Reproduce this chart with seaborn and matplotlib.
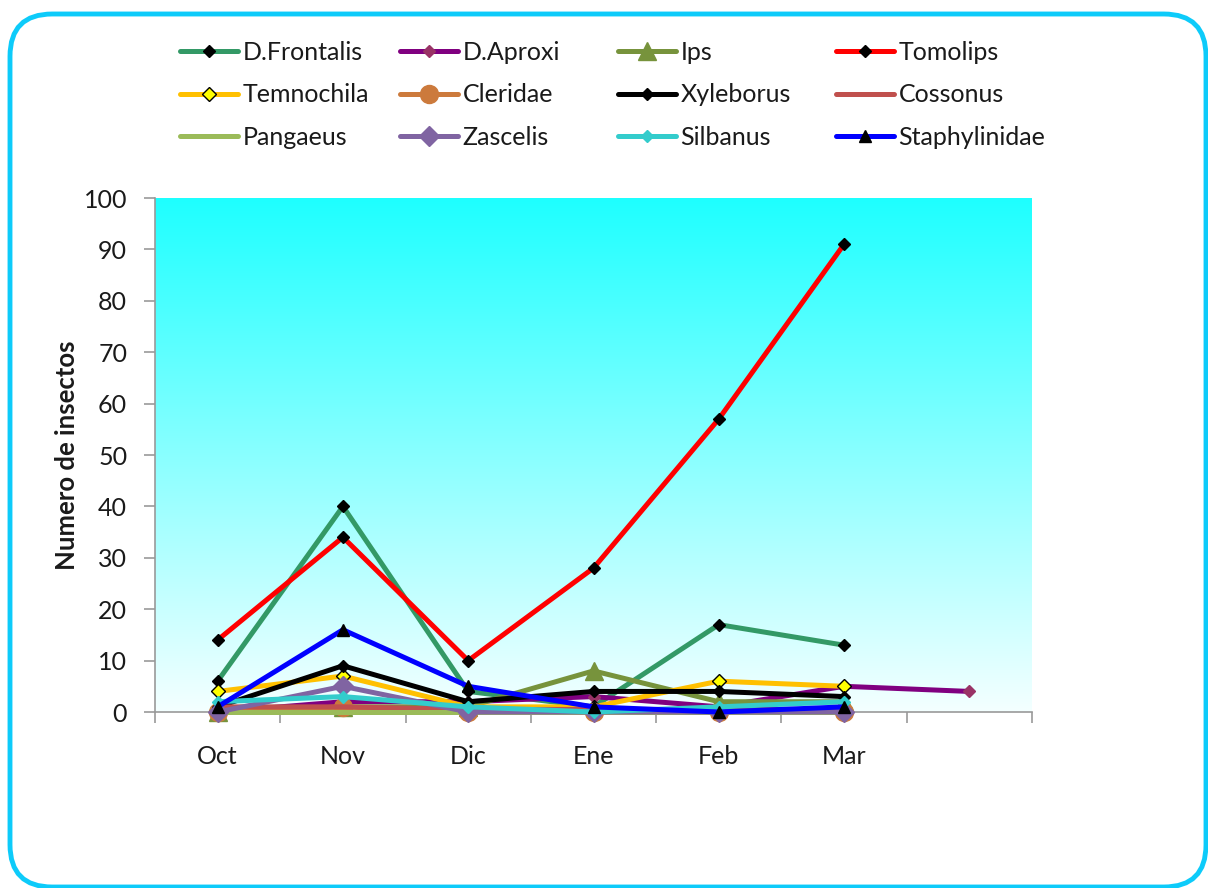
import numpy as np
import pandas as pd
import matplotlib
matplotlib.use("Agg")
import matplotlib.pyplot as plt
from matplotlib.patches import FancyBboxPatch
from matplotlib.colors import LinearSegmentedColormap
import seaborn as sns

months = ["Oct", "Nov", "Dic", "Ene", "Feb", "Mar", ""]

d_frontalis   = [6, 40, 4, 1, 17, 13]
d_aproxi      = [0, 2, 2, 3, 1, 5, 4]
ips           = [0, 1, 1, 8, 2, 2]
tomolips      = [14, 34, 10, 28, 57, 91]
temnochila    = [4, 7, 1, 1, 6, 5]
cleridae      = [0, 1, 0, 0, 0, 0]
xyleborus     = [1, 9, 2, 4, 4, 3]
cossonus      = [1, 1, 0.5, 0.5, 0.5, 0.5]
pangaeus      = [0, 0, 0, 0, 0, 0]
zascelis      = [0, 5, 0, 0, 0, 0]
silbanus      = [2, 3, 1, 0, 1, 2]
staphylinidae = [1, 16, 5, 1, 0, 1]

series = [
    ("D.Frontalis", d_frontalis, "#339966", "D", 6, "black", "black"),
    ("D.Aproxi", d_aproxi, "#800080", "D", 6, "#993366", "#993366"),
    ("Ips", ips, "#77933C", "^", 13, "#77933C", "#77933C"),
    ("Tomolips", tomolips, "#FF0000", "D", 6, "black", "black"),
    ("Temnochila", temnochila, "#FFC000", "D", 7, "#FFFF00", "black"),
    ("Cleridae", cleridae, "#CC7A3C", "o", 13, "#CC7A3C", "#CC7A3C"),
    ("Xyleborus", xyleborus, "#000000", "D", 6, "black", "black"),
    ("Cossonus", cossonus, "#C0504D", None, 0, None, None),
    ("Pangaeus", pangaeus, "#9BBB59", None, 0, None, None),
    ("Zascelis", zascelis, "#8064A2", "D", 10, "#8064A2", "#8064A2"),
    ("Silbanus", silbanus, "#33CCCC", "D", 6, "#33CCCC", "#33CCCC"),
    ("Staphylinidae", staphylinidae, "#0000FF", "^", 8, "black", "black"),
]

sns.set_theme(style="white")
plt.rcParams["font.family"] = ["Lato", "DejaVu Sans"]

W, H = 1208, 888
fig = plt.figure(figsize=(W / 100, H / 100), dpi=100)
fig.patch.set_facecolor("white")

# rounded frame around the whole chart
x0, y0, x1, y1 = 10, 14, 1206, 887
frame = FancyBboxPatch((x0 / W, 1 - y1 / H), (x1 - x0) / W, (y1 - y0) / H,
                       boxstyle="round,pad=0,rounding_size=0.035",
                       transform=fig.transFigure, facecolor="none",
                       edgecolor="#0DCBFA", linewidth=3.5, clip_on=False,
                       mutation_aspect=W / H)
fig.patches.append(frame)

ax = fig.add_axes([155 / W, 1 - 712 / H, (1032 - 155) / W, (712 - 198) / H])

# cyan-to-white vertical gradient behind the plot
cmap = LinearSegmentedColormap.from_list("bg", ["#F4FFFF", "#1EFFFF"])
grad = np.linspace(0, 1, 256).reshape(-1, 1)
ax.imshow(grad, aspect="auto", cmap=cmap, origin="lower",
          extent=(-0.5, 6.5, 0, 100), zorder=0)

for i, (name, vals, col, mk, ms, mfc, mec) in enumerate(series):
    df = pd.DataFrame({"x": np.arange(len(vals)), "y": vals})
    kw = dict(marker=mk, markersize=ms, markerfacecolor=mfc,
              markeredgecolor=mec, markeredgewidth=1) if mk else dict(marker=None)
    sns.lineplot(data=df, x="x", y="y", ax=ax, color=col, linewidth=3.6,
                 label=name, zorder=2 + i, **kw)
for ln in ax.lines:
    ln.set_clip_on(False)

ax.set_xlim(-0.5, 6.5)
ax.set_ylim(0, 100)
ax.set_yticks(np.arange(0, 101, 10))
ax.set_xticks(np.arange(-0.5, 6.6, 1))
ax.set_xticklabels([])
ax.set_xticks(np.arange(len(months)), minor=True)
ax.set_xticklabels(months, minor=True)
ax.tick_params(axis="x", which="major", length=8, color="#999999", width=1.2,
               direction="out", bottom=True)
ax.tick_params(axis="x", which="minor", length=0, pad=24, labelsize=18,
               labelcolor="#1a1a1a")
ax.tick_params(axis="y", length=8, color="#999999", width=1.2, direction="out",
               left=True, labelsize=18, pad=12, labelcolor="#1a1a1a")

for s in ["top", "right"]:
    ax.spines[s].set_visible(False)
for s in ["left", "bottom"]:
    ax.spines[s].set_color("#999999")
    ax.spines[s].set_linewidth(1.2)

ax.set_xlabel("")
ax.set_ylabel("Numero de insectos", fontsize=18.5, fontweight="bold",
              color="#1a1a1a")
ax.yaxis.set_label_coords((79 - 155) / (1032 - 155), 0.5)

handles, labels = ax.get_legend_handles_labels()
if ax.legend_:
    ax.legend_.remove()

# legend laid out as four fixed-width columns of three entries
col_x = [180, 400, 618, 836]
for c, xpx in enumerate(col_x):
    idx = [c, c + 4, c + 8]
    fig.legend([handles[k] for k in idx], [labels[k] for k in idx],
               loc="upper left", bbox_to_anchor=(xpx / W, 1 - 41 / H),
               frameon=False, fontsize=18, handlelength=2.3,
               handletextpad=0.2, labelspacing=0.78, borderpad=0,
               borderaxespad=0, labelcolor="#1a1a1a")

fig.savefig("out.png", dpi=100)
